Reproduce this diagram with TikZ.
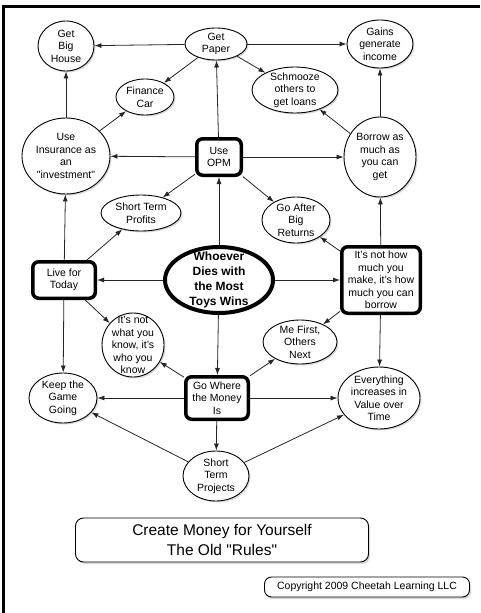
\documentclass[tikz,border=0pt]{standalone}
\usepackage{fontspec}
\setmainfont{Liberation Sans}
\usetikzlibrary{positioning, arrows.meta, shapes.geometric, shadows}
\tikzset{bubble/.style={ellipse, draw, line width=0.9pt, fill=white, inner sep=-30pt,
           align=center, font=\fontsize{10.5}{12.5}\selectfont,
           drop shadow={shadow xshift=1.5pt, shadow yshift=-1.5pt, opacity=0.3}},
         keybox/.style={rectangle, rounded corners=6pt, draw, line width=3.5pt, fill=white,
           inner sep=1pt, align=center, font=\fontsize{10.5}{12.5}\selectfont,
           drop shadow={shadow xshift=1.5pt, shadow yshift=-1.5pt, opacity=0.3}},
         link/.style={-{Latex[length=7pt,width=5pt]}, line width=0.8pt, draw=black!85}}

\begin{document}
\begin{tikzpicture}[x=1pt, y=-1pt]

        \useasboundingbox (0,0) rectangle (480,613);

        % Frame
        \draw[line width=3pt] (3.5,613) -- (3.5,6) -- (480,6);

        % Nodes for the top row
        \node[bubble, minimum width=56, minimum height=50] (house) at (66, 46) {Get\\Big\\House};
        \node[bubble, minimum width=62, minimum height=32] (paper) at (216, 44) {Get\\Paper};
        \node[bubble, minimum width=66, minimum height=48] (gains) at (380, 44) {Gains\\generate\\income};
        \node[bubble, minimum width=58, minimum height=36] (car) at (145, 97) {Finance\\Car};
        \node[bubble, minimum width=86, minimum height=46] (schmooze) at (295, 90) {Schmooze\\others to\\get loans};

        % Nodes for the OPM row
        \node[bubble, minimum width=88, minimum height=76] (insure) at (66, 156) {Use\\Insurance as\\an\\\textquotedbl investment\textquotedbl};
        \node[keybox, minimum width=44.5, minimum height=36.5] (opm) at (219, 157) {Use\\OPM};
        \node[bubble, minimum width=72, minimum height=80] (borrow) at (380, 157) {Borrow as\\much as\\you can\\get};
        \node[bubble, minimum width=80, minimum height=36] (profits) at (141, 213) {Short Term\\Profits};
        \node[bubble, minimum width=68, minimum height=46] (returns) at (296, 220) {Go After\\Big\\Returns};

        % Nodes for the middle row
        \node[bubble, line width=4pt, minimum width=108, minimum height=66,
              font=\fontsize{12}{15}\selectfont\bfseries] (toys) at (219, 280) {Whoever\\Dies with\\the Most\\Toys Wins};
        \node[keybox, minimum width=62.5, minimum height=36.5] (live) at (64, 280) {Live for\\Today};
        \node[keybox, minimum width=78.5, minimum height=66.5] (howmuch) at (381, 280) {It's not how\\much you\\make, it's how\\much you can\\borrow};

        % Nodes for the lower rows
        \node[bubble, minimum width=62, minimum height=64] (whatknow) at (133, 345) {It's not\\what you\\know, it's\\who you\\know};
        \node[bubble, minimum width=74, minimum height=44] (mefirst) at (300, 342) {Me First,\\Others\\Next};
        \node[bubble, minimum width=68, minimum height=50] (keep) at (63, 398) {Keep the\\Game\\Going};
        \node[keybox, minimum width=62.5, minimum height=42.5] (gowhere) at (217, 398) {Go Where\\the Money\\Is};
        \node[bubble, minimum width=82, minimum height=62] (everything) at (379, 398) {Everything\\increases in\\Value over\\Time};
        \node[bubble, minimum width=66, minimum height=50] (projects) at (216, 476) {Short\\Term\\Projects};

        % Caption boxes
        \node[draw, rectangle, rounded corners=8pt, line width=0.9pt, fill=white, align=center,
              minimum width=293, minimum height=44, font=\fontsize{15.5}{20}\selectfont,
              drop shadow={shadow xshift=1.5pt, shadow yshift=-2pt, opacity=0.3}] (title) at (222, 540)
              {Create Money for Yourself\\The Old \textquotedbl Rules\textquotedbl};
        \node[draw, rectangle, rounded corners=7pt, line width=0.9pt, fill=white, inner sep=0pt,
              minimum width=205, minimum height=20, font=\fontsize{10.5}{12.5}\selectfont,
              drop shadow={shadow xshift=1.5pt, shadow yshift=-2pt, opacity=0.3}] (copy) at (367, 587)
              {Copyright 2009 Cheetah Learning LLC};

        % Edges from Get Paper
        \draw[link] (paper) -- (house);
        \draw[link] (paper) -- (gains);
        \draw[link] (paper) -- (car);
        \draw[link] (paper) -- (schmooze);

        % Edges from Use OPM
        \draw[link] (opm) -- (paper);
        \draw[link] (opm) -- (insure);
        \draw[link] (opm) -- (borrow);
        \draw[link] (opm) -- (profits);
        \draw[link] (opm) -- (returns);

        % Edges from the side bubbles
        \draw[link] (insure) -- (house);
        \draw[link] (insure) -- (car);
        \draw[link] (borrow) -- (gains);
        \draw[link] (borrow) -- (schmooze);

        % Edges from the centre
        \draw[link] (toys) -- (opm);
        \draw[link] (toys) -- (live);
        \draw[link] (toys) -- (howmuch);
        \draw[link] (toys) -- (gowhere);

        % Edges from Live for Today
        \draw[link] (live) -- (insure);
        \draw[link] (live) -- (profits);
        \draw[link] (live) -- (whatknow);
        \draw[link] (live) -- (keep);

        % Edges from the borrow box
        \draw[link] (howmuch) -- (borrow);
        \draw[link] (howmuch) -- (returns);
        \draw[link] (howmuch) -- (mefirst);
        \draw[link] (howmuch) -- (everything);

        % Edges from Go Where the Money Is
        \draw[link] (gowhere) -- (whatknow);
        \draw[link] (gowhere) -- (mefirst);
        \draw[link] (gowhere) -- (keep);
        \draw[link] (gowhere) -- (everything);
        \draw[link] (gowhere) -- (projects);

        % Edges from Short Term Projects
        \draw[link] (projects) -- (keep);
        \draw[link] (projects) -- (everything);

    \end{tikzpicture}
\end{document}
